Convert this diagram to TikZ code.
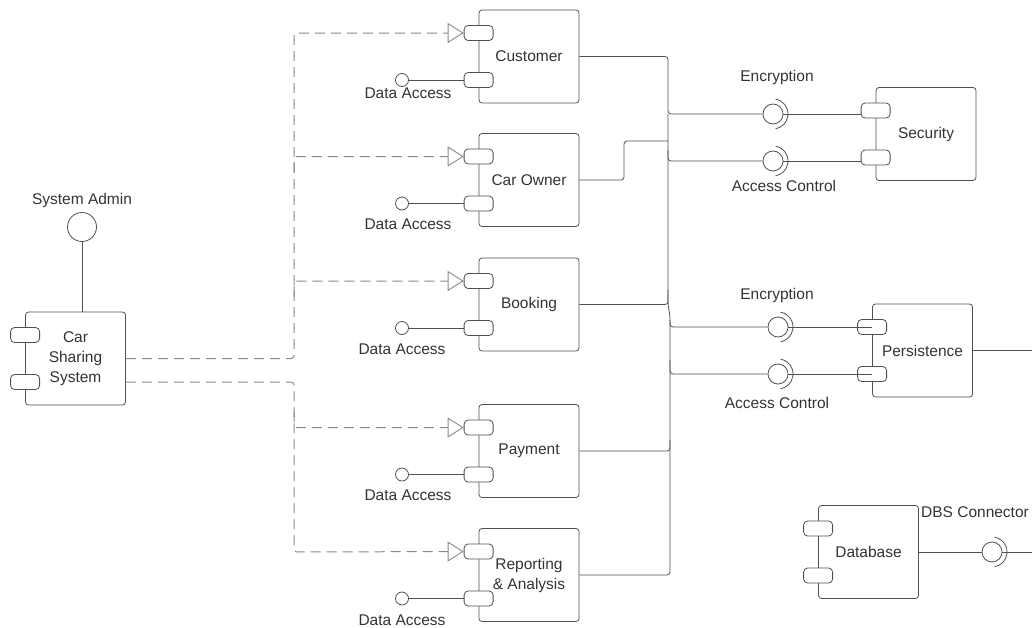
\documentclass[tikz,border=0pt]{standalone}
\usepackage{fontspec}
\setmainfont{Liberation Sans}
\usetikzlibrary{arrows.meta,calc}
\definecolor{linec}{HTML}{505050}
\definecolor{txtc}{HTML}{333333}
\definecolor{dashc}{HTML}{8A8A8A}
\begin{document}
\begin{tikzpicture}[x=1pt,y=-1pt,
  every node/.style={font=\fontsize{15.5}{20}\selectfont, text=txtc},
  comp/.style={draw=linec, line width=0.8pt, rounded corners=3pt, minimum width=100pt, minimum height=93pt, align=center, inner sep=0pt},
  port/.style={draw=linec, line width=0.8pt, fill=white, rounded corners=4pt, minimum width=29pt, minimum height=15pt, inner sep=0pt},
  conn/.style={draw=linec, line width=0.8pt, rounded corners=3pt},
  dep/.style={draw=dashc, line width=1pt, dash pattern=on 10pt off 6pt, rounded corners=3pt, -{Triangle[length=16pt,width=20pt,fill=white,line width=0.9pt]}},
  depl/.style={draw=dashc, line width=1pt, dash pattern=on 10pt off 6pt, rounded corners=3pt},
  ball/.style={circle, draw=linec, line width=0.8pt, minimum size=20pt, inner sep=0pt},
  lolli/.style={circle, draw=linec, line width=0.8pt, minimum size=13pt, inner sep=0pt},
  sock/.style={draw=linec, line width=0.8pt},
]
\useasboundingbox (0,0) rectangle (1032,627);

% components
\node[comp] (css) at (75.5,358.5) {Car\\Sharing\\System};
\node[comp] (cust) at (529,56.5) {Customer};
\node[comp] (owner) at (529,180) {Car Owner};
\node[comp] (book) at (529,304.5) {Booking};
\node[comp] (pay) at (529,451) {Payment};
\node[comp] (rep) at (529,575) {Reporting\\\& Analysis};
\node[comp] (sec) at (926,134) {Security};
\node[comp] (pers) at (922.5,350.5) {Persistence};
\node[comp] (db) at (868.5,552) {Database};

\foreach \n in {css,cust,owner,book,pay,rep,sec,pers,db}{
  \node[port] (\n-a) at ([yshift=23.5pt]\n.west) {};
  \node[port] (\n-b) at ([yshift=-23.5pt]\n.west) {};
}

% system admin
\node[circle, draw=linec, line width=0.8pt, minimum size=29pt, inner sep=0pt] (admin) at (82,227) {};
\node (adminl) at (82,200) {System Admin};
\draw[conn] (admin.south) -- (admin.south |- css.north);

% dependencies
\draw[dep] (css.east) -- (294,358.5) -- (294,33) -- (cust-a.west);
\draw[dep] (294,172) |- (owner-a.west);
\draw[dep] (294,296) |- (book-a.west);
\draw[dep] (css.east |- css-b) -- (294,382) -- (294,552) -- (rep-a.west);
\draw[dep] (294,412) |- (pay-a.west);

% data access lollipops
\foreach \n/\lx/\ly in {cust/408/93, owner/408/224, book/402/349, pay/408/495, rep/402/620}{
  \node[lolli] (\n-i) at (402,0 |- \n-b) {};
  \draw[conn] (\n-i.east) -- (\n-b.west);
  \node (\n-l) at (\lx,\ly) {Data Access};
}

% interface balls
\node[ball] (e1) at (773,114) {};
\node[ball] (e2) at (773,161) {};
\node[ball] (e3) at (778,327) {};
\node[ball] (e4) at (778,374) {};
\node[ball] (e5) at (992,552) {};
\foreach \b in {e1,e2,e3,e4,e5}{
  \draw[sock] ([shift={(80:15pt)}]\b.center) arc[start angle=80, end angle=-80, radius=15pt];
}
\node (enc1) at (777,77) {Encryption};
\node (ac1) at (784,186) {Access Control};
\node (enc2) at (777,295) {Encryption};
\node (ac2) at (777,403) {Access Control};
\node (dbsl) at (975,512) {DBS Connector};

\draw[conn] (e1.east) -- (sec-a.west |- e1);
\draw[conn] (e2.east) -- (sec-b.west |- e2);
\draw[conn] (e3.east) -- (pers.west |- e3);
\draw[conn] (e4.east) -- (pers.west |- e4);

% bus
\draw[conn] (cust.east) -- (668,56.5) -- (668,114) -- (e1.west);
\draw[conn] (owner.east) -- (624,180) -- (624,141) -- (668,141);
\draw[conn] (668,114) -- (668,161) -- (e2.west);
\draw[conn] (book.east) -- (668,304.5) -- (668,150);
\draw[conn] (668,290) -- (668,304.5) -- (670,316) -- (670,327) -- (e3.west);
\draw[conn] (670,320) -- (670,374) -- (e4.west);
\draw[conn] (pay.east) -- (670,451) -- (670,360);
\draw[conn] (rep.east) -- (670,575) -- (670,440);

% outputs
\coordinate (pout) at (1032,350.5);
\coordinate (dbout) at (1032,552);
\draw[conn] (pers.east) -- (pout);
\draw[conn] (db.east) -- (e5.west);
\draw[conn] (e5.east) -- (dbout);
\end{tikzpicture}
\end{document}
